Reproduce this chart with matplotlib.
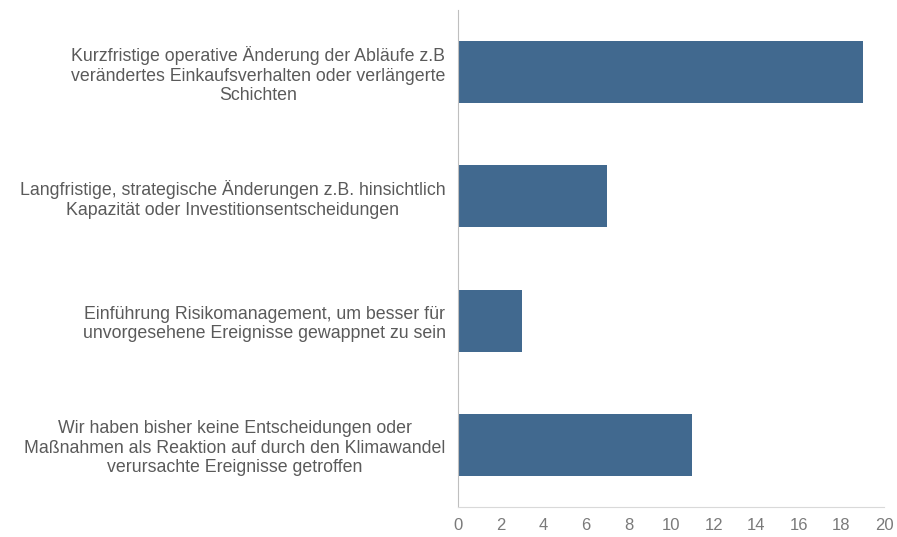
import matplotlib
matplotlib.use('Agg')
import matplotlib.pyplot as plt

# Data
categories = [
    'Kurzfristige operative Änderung der Abläufe z.B\nverändertes Einkaufsverhalten oder verlängerte\nSchichten',
    'Langfristige, strategische Änderungen z.B. hinsichtlich\nKapazität oder Investitionsentscheidungen',
    'Einführung Risikomanagement, um besser für\nunvorgesehene Ereignisse gewappnet zu sein',
    'Wir haben bisher keine Entscheidungen oder\nMaßnahmen als Reaktion auf durch den Klimawandel\nverursachte Ereignisse getroffen',
]
values = [19, 7, 3, 11]
x_ticks = list(range(0, 21, 2))

plt.rcParams['font.family'] = ['Liberation Sans', 'DejaVu Sans']

fig = plt.figure(figsize=(8.97, 5.37), dpi=100)
ax = fig.add_axes([0.5106, 0.0559, 0.4749, 0.9255])

ypos = list(range(len(categories)))
ax.barh(ypos, values, height=0.5, color='#41698f')

ax.set_xlim(0, 20)
ax.set_ylim(len(categories) - 0.5, -0.5)
ax.set_xticks(x_ticks)
ax.set_yticks(ypos)
ax.set_yticklabels(categories, ha='right', multialignment='center', linespacing=1.18)

ax.tick_params(axis='y', length=0, pad=9, labelsize=12.8, labelcolor='#5a5a5a')
ax.tick_params(axis='x', length=0, pad=8, labelsize=12, labelcolor='#7a7a7a')

for s in ['top', 'right']:
    ax.spines[s].set_visible(False)
ax.spines['left'].set_color('#bfbfbf')
ax.spines['bottom'].set_color('#d9d9d9')

fig.savefig('out.png', dpi=100)
